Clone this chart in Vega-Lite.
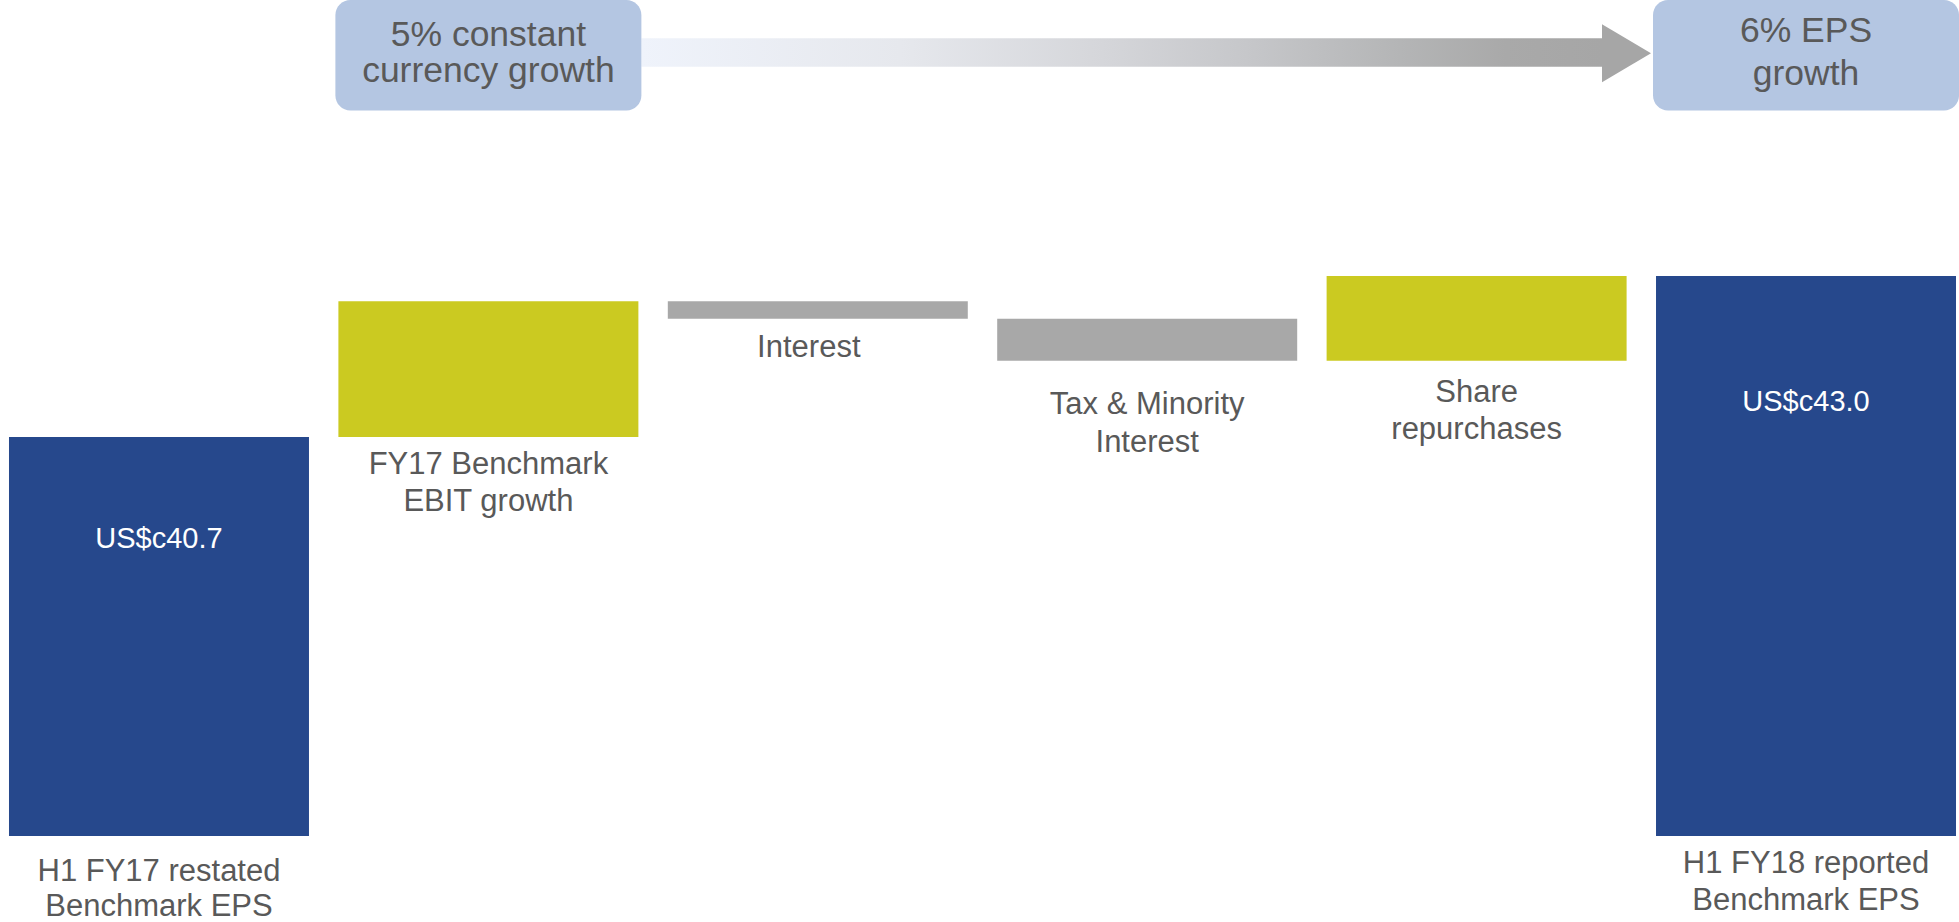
{
  "$schema": "https://vega.github.io/schema/vega-lite/v6.json",
  "width": 1959,
  "height": 922,
  "autosize": {"type": "none"},
  "padding": 0,
  "background": "white",
  "config": {"view": {"stroke": null}, "font": "Liberation Sans"},
  "datasets": {
    "bars": [
      {"cat": "H1 FY17", "lo": 35, "hi": 40.7, "kind": "total", "value": "US$c40.7", "label": "H1 FY17 restated\nBenchmark EPS"},
      {"cat": "EBIT", "lo": 40.7, "hi": 42.64, "kind": "increase", "value": "", "label": "FY17 Benchmark\nEBIT growth"},
      {"cat": "Interest", "lo": 42.39, "hi": 42.64, "kind": "decrease", "value": "", "label": "Interest"},
      {"cat": "Tax", "lo": 41.79, "hi": 42.39, "kind": "decrease", "value": "", "label": "Tax & Minority\nInterest"},
      {"cat": "Share", "lo": 41.79, "hi": 43.0, "kind": "increase", "value": "", "label": "Share\nrepurchases"},
      {"cat": "H1 FY18", "lo": 35, "hi": 43.0, "kind": "total", "value": "US$c43.0", "label": "H1 FY18 reported\nBenchmark EPS"}
    ],
    "boxes": [
      {"cat": "EBIT", "text": "5% constant\ncurrency growth"},
      {"cat": "H1 FY18", "text": "6% EPS\ngrowth"}
    ],
    "arrow": [
      {"from": "EBIT", "to": "H1 FY18"}
    ]
  },
  "layer": [
    {
      "data": {"name": "bars"},
      "mark": {"type": "bar"},
      "encoding": {
        "x": {"field": "cat", "type": "nominal", "axis": null,
              "scale": {"type": "band", "domain": ["H1 FY17", "EBIT", "Interest", "Tax", "Share", "H1 FY18"], "paddingInner": 0.0893, "paddingOuter": 0.0182, "align": 0.75}},
        "y": {"field": "hi", "type": "quantitative", "axis": null,
              "scale": {"domain": [33.771, 46.943], "nice": false, "zero": false}},
        "y2": {"field": "lo"},
        "color": {"field": "kind", "type": "nominal", "legend": null,
                  "scale": {"domain": ["total", "increase", "decrease"], "range": ["#26488c", "#cbca21", "#a8a8a8"]}}
      }
    },
    {
      "mark": {"type": "rule", "color": "#a6a6a6", "strokeWidth": 2},
      "encoding": {"y": {"datum": 35}}
    },
    {
      "data": {"name": "bars"},
      "transform": [{"filter": "datum.cat === 'H1 FY17'"}],
      "mark": {"type": "text", "color": "white", "fontSize": 29, "baseline": "alphabetic", "align": "center", "dy": 110.7},
      "encoding": {
        "x": {"field": "cat", "type": "nominal"},
        "y": {"field": "hi", "type": "quantitative"},
        "text": {"field": "value"}
      }
    },
    {
      "data": {"name": "bars"},
      "transform": [{"filter": "datum.cat === 'H1 FY18'"}],
      "mark": {"type": "text", "color": "white", "fontSize": 29, "baseline": "alphabetic", "align": "center", "dy": 134.7},
      "encoding": {
        "x": {"field": "cat", "type": "nominal"},
        "y": {"field": "hi", "type": "quantitative"},
        "text": {"field": "value"}
      }
    },
    {
      "data": {"name": "bars"},
      "transform": [{"filter": {"field": "cat", "oneOf": ["EBIT", "H1 FY18"]}}],
      "mark": {"type": "text", "color": "#595959", "fontSize": 31, "baseline": "alphabetic", "align": "center", "lineBreak": "\n", "lineHeight": 37, "dy": 37.5},
      "encoding": {
        "x": {"field": "cat", "type": "nominal"},
        "y": {"field": "lo", "type": "quantitative"},
        "text": {"field": "label"}
      }
    },
    {
      "data": {"name": "bars"},
      "transform": [{"filter": "datum.cat === 'Interest'"}],
      "mark": {"type": "text", "color": "#595959", "fontSize": 31, "baseline": "alphabetic", "align": "center", "lineBreak": "\n", "lineHeight": 37, "dy": 38, "dx": -9},
      "encoding": {
        "x": {"field": "cat", "type": "nominal"},
        "y": {"field": "lo", "type": "quantitative"},
        "text": {"field": "label"}
      }
    },
    {
      "data": {"name": "bars"},
      "transform": [{"filter": "datum.cat === 'Share'"}],
      "mark": {"type": "text", "color": "#595959", "fontSize": 31, "baseline": "alphabetic", "align": "center", "lineBreak": "\n", "lineHeight": 37.5, "dy": 41},
      "encoding": {
        "x": {"field": "cat", "type": "nominal"},
        "y": {"field": "lo", "type": "quantitative"},
        "text": {"field": "label"}
      }
    },
    {
      "data": {"name": "bars"},
      "transform": [{"filter": "datum.cat === 'H1 FY17'"}],
      "mark": {"type": "text", "color": "#595959", "fontSize": 31, "baseline": "alphabetic", "align": "center", "lineBreak": "\n", "lineHeight": 35, "dy": 45},
      "encoding": {
        "x": {"field": "cat", "type": "nominal"},
        "y": {"field": "lo", "type": "quantitative"},
        "text": {"field": "label"}
      }
    },
    {
      "data": {"name": "bars"},
      "transform": [{"filter": "datum.cat === 'Tax'"}],
      "mark": {"type": "text", "color": "#595959", "fontSize": 31, "baseline": "alphabetic", "align": "center", "lineBreak": "\n", "lineHeight": 37.4, "dy": 53.6},
      "encoding": {
        "x": {"field": "cat", "type": "nominal"},
        "y": {"field": "lo", "type": "quantitative"},
        "text": {"field": "label"}
      }
    },
    {
      "data": {"name": "arrow"},
      "mark": {"type": "rect", "xOffset": 3, "x2Offset": -54, "stroke": null,
               "fill": {"gradient": "linear", "x1": 0, "y1": 0, "x2": 1, "y2": 0,
                        "stops": [
                          {"offset": 0, "color": "#eff3fb"},
                          {"offset": 0.27, "color": "#e6e8ed"},
                          {"offset": 0.48, "color": "#d5d6da"},
                          {"offset": 0.63, "color": "#c6c7ca"},
                          {"offset": 0.79, "color": "#b4b5b6"},
                          {"offset": 0.9, "color": "#a9a9a9"},
                          {"offset": 1, "color": "#a6a6a6"}
                        ]}},
      "encoding": {
        "x": {"field": "from", "type": "nominal", "bandPosition": 1},
        "x2": {"field": "to", "bandPosition": 0},
        "y": {"datum": 46.396},
        "y2": {"datum": 45.99}
      }
    },
    {
      "data": {"name": "arrow"},
      "mark": {"type": "point", "shape": "M0,0L-1.69,-1L-1.69,1Z", "size": 3364, "filled": true, "color": "#a6a6a6", "opacity": 1, "strokeWidth": 0, "xOffset": -5},
      "encoding": {
        "x": {"field": "to", "type": "nominal", "bandPosition": 0},
        "y": {"datum": 46.181}
      }
    },
    {
      "data": {"name": "boxes"},
      "mark": {"type": "bar", "color": "#b4c6e2", "cornerRadius": 15, "width": {"band": 1.02}},
      "encoding": {
        "x": {"field": "cat", "type": "nominal"},
        "y": {"datum": 46.943},
        "y2": {"datum": 45.364}
      }
    },
    {
      "data": {"name": "boxes"},
      "transform": [{"filter": "datum.cat === 'EBIT'"}],
      "mark": {"type": "text", "color": "#595959", "fontSize": 35.5, "baseline": "alphabetic", "align": "center", "lineBreak": "\n", "lineHeight": 36},
      "encoding": {
        "x": {"field": "cat", "type": "nominal"},
        "y": {"datum": 46.283},
        "text": {"field": "text"}
      }
    },
    {
      "data": {"name": "boxes"},
      "transform": [{"filter": "datum.cat === 'H1 FY18'"}],
      "mark": {"type": "text", "color": "#595959", "fontSize": 35.5, "baseline": "alphabetic", "align": "center", "lineBreak": "\n", "lineHeight": 43},
      "encoding": {
        "x": {"field": "cat", "type": "nominal"},
        "y": {"datum": 46.347},
        "text": {"field": "text"}
      }
    }
  ]
}
